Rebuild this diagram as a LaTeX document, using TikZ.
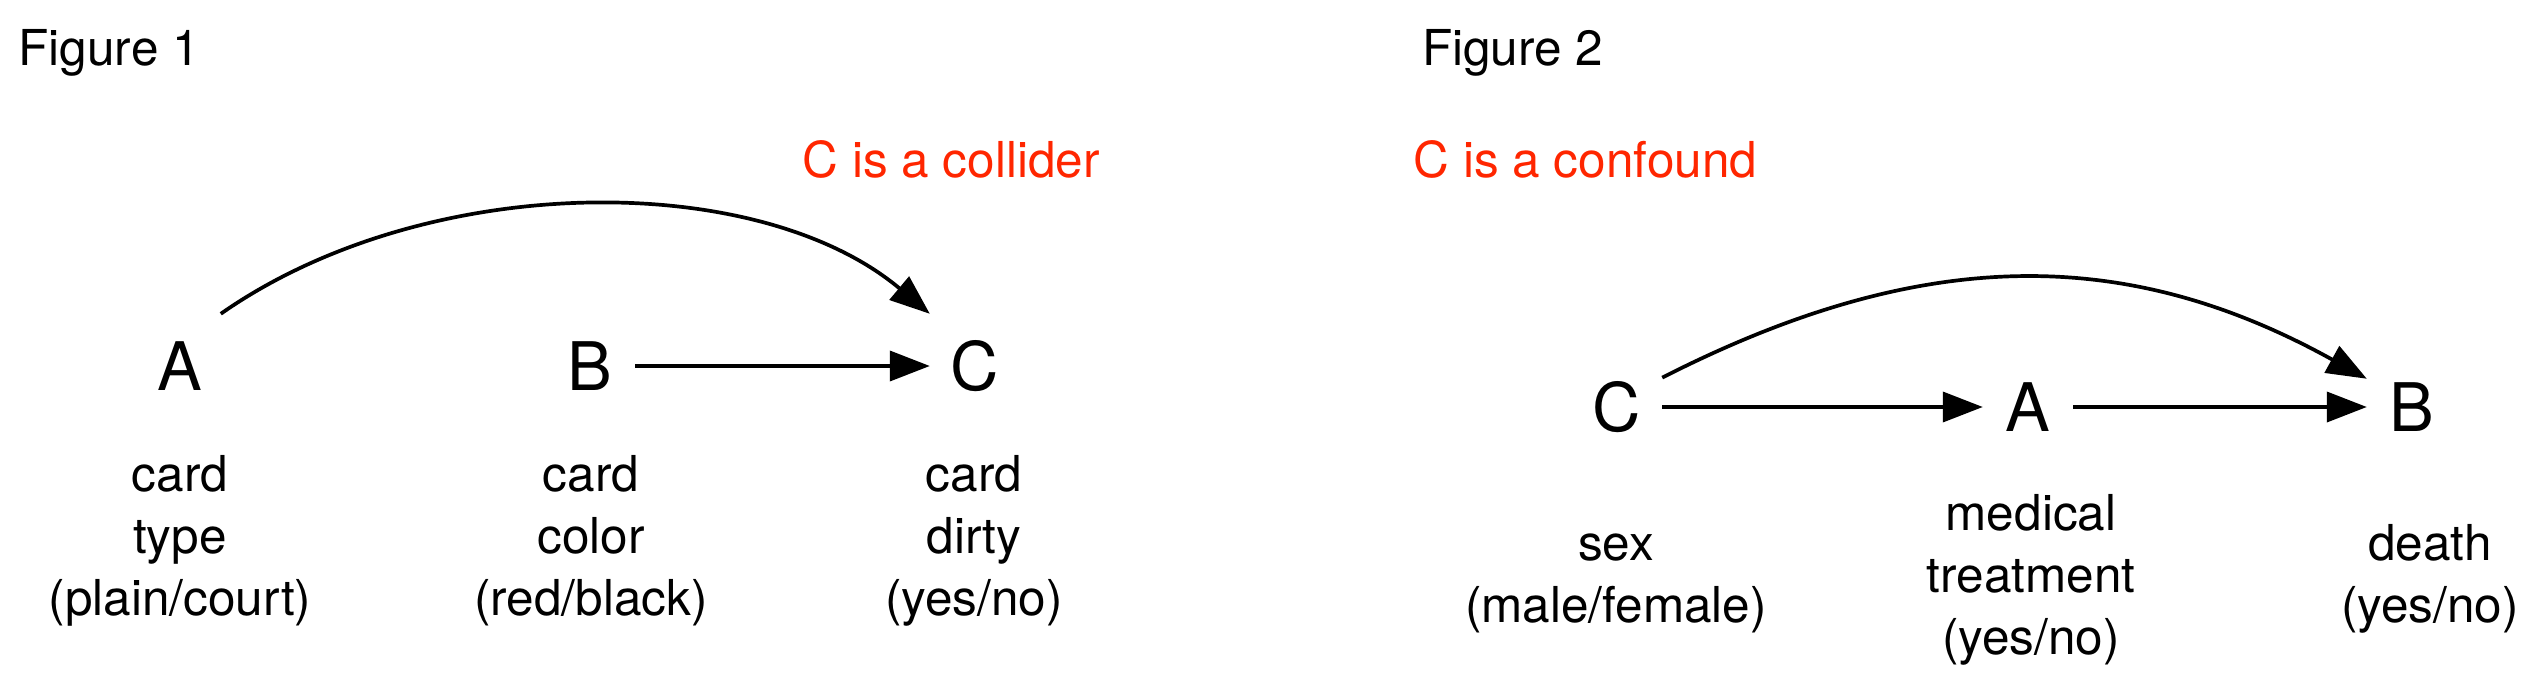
\documentclass[tikz,border=0pt]{standalone}
\usepackage{fontspec}
\setmainfont{TeX Gyre Heros}
\usetikzlibrary{arrows.meta}
\definecolor{redlabel}{RGB}{255,38,0}
\begin{document}
\begin{tikzpicture}[x=1pt,y=1pt,
  var/.style={font=\fontsize{67}{80}\selectfont, inner sep=0pt, minimum width=90pt, minimum height=104pt},
  lbl/.style={font=\fontsize{49.5}{62}\selectfont, inner sep=0pt, anchor=base},
  ttl/.style={font=\fontsize{49.5}{59.5}\selectfont, inner sep=0pt, anchor=base west},
  note/.style={ttl, text=redlabel},
  arr/.style={line width=3.7pt, -{Triangle[length=40pt,width=30pt]}}]
\useasboundingbox (0,0) rectangle (2541,-687);
% ---------- Figure 1 ----------
\node[ttl] (t1) at (18.5,-66) {Figure 1};
\node[note] (n1) at (802.5,-178) {C is a collider};
\node[var] (A1) at (180,-366) {A};
\node[var] (B1) at (590,-366) {B};
\node[var] (C1) at (975,-366) {C};
\node[lbl] (la1) at (180,-491) {\begin{tabular}[t]{@{}c@{}}card\\type\\(plain/court)\end{tabular}};
\node[lbl] (lb1) at (591,-491) {\begin{tabular}[t]{@{}c@{}}card\\color\\(red/black)\end{tabular}};
\node[lbl] (lc1) at (974,-491) {\begin{tabular}[t]{@{}c@{}}card\\dirty\\(yes/no)\end{tabular}};
\draw[arr] (B1.east) -- (C1.west);
\draw[arr] (A1.52) .. controls +(35:250) and +(140:225) .. (C1.north west);
% ---------- Figure 2 ----------
\node[ttl] (t2) at (1422,-66) {Figure 2};
\node[note] (n2) at (1413.5,-178) {C is a confound};
\node[var] (C2) at (1617,-407) {C};
\node[var] (A2) at (2028,-407) {A};
\node[var] (B2) at (2412,-407) {B};
\node[lbl] (lc2) at (1616,-560) {\begin{tabular}[t]{@{}c@{}}sex\\(male/female)\end{tabular}};
\node[lbl] (la2) at (2031,-530) {\begin{tabular}[t]{@{}c@{}}medical\\treatment\\(yes/no)\end{tabular}};
\node[lbl] (lb2) at (2430,-560) {\begin{tabular}[t]{@{}c@{}}death\\(yes/no)\end{tabular}};
\draw[arr] (C2.east) -- (A2.west);
\draw[arr] (A2.east) -- (B2.west);
\draw[arr] (C2.33) .. controls +(27:293) and +(151:274) .. (B2.148);
\end{tikzpicture}
\end{document}
